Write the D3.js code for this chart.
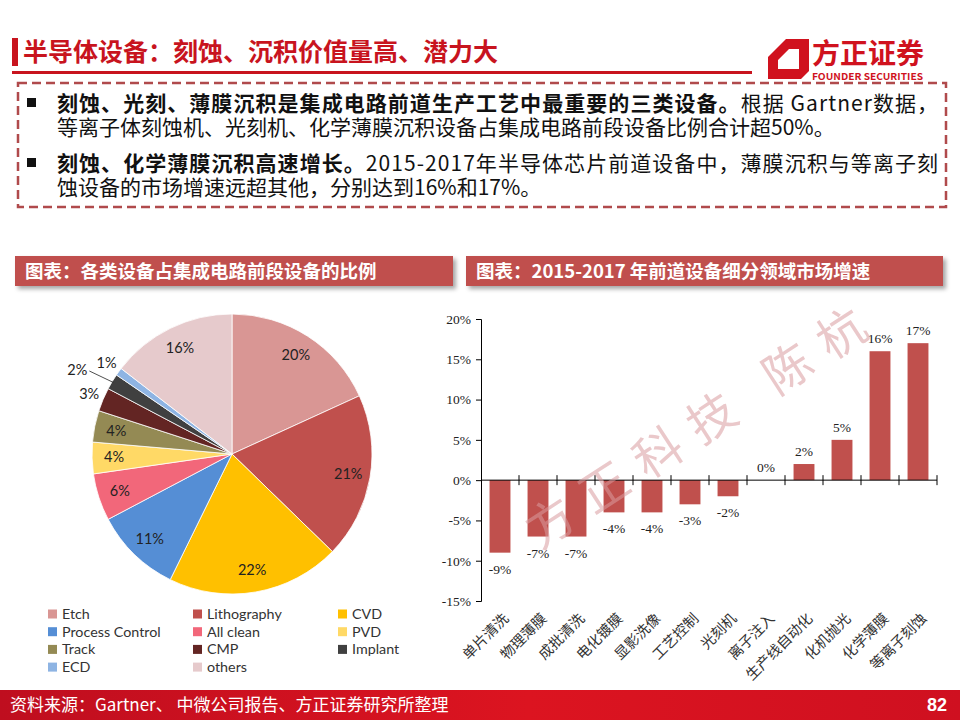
<!DOCTYPE html>
<meta charset="utf-8">
<script src="https://d3js.org/d3.v7.min.js"></script>
<style>
  body { margin: 0; background: #fff; }
  svg text { font-family: "Noto Sans CJK SC", "Noto Sans", sans-serif; }
</style>
<div id="chart"></div>
<script>
// ---- data ----
var pieNames = ["Etch", "Lithography", "CVD", "Process Control", "All clean", "PVD", "Track", "CMP", "Implant", "ECD", "others"];
var pieValues = [20, 21, 22, 11, 6, 4, 4, 3, 2, 1, 16];
var pieColors = ["#d99694", "#c0504d", "#ffc000", "#558ed5", "#f2677a", "#ffd966", "#948a54", "#632523", "#404040", "#8eb4e3", "#e6cacc"];

var barNames = ["单片清洗", "物理薄膜", "成批清洗", "电化镀膜", "显影洗像", "工艺控制", "光刻机", "离子注入", "生产线自动化", "化机抛光", "化学薄膜", "等离子刻蚀"];
var barValues = [-9, -7, -7, -4, -4, -3, -2, 0, 2, 5, 16, 17];
var yTicks = [-15, -10, -5, 0, 5, 10, 15, 20];

var pageTitle = "半导体设备：刻蚀、沉积价值量高、潜力大";
var bullet1Bold = "刻蚀、光刻、薄膜沉积是集成电路前道生产工艺中最重要的三类设备。";
var bullet1Rest = "根据 Gartner数据，";
var bullet1Line2 = "等离子体刻蚀机、光刻机、化学薄膜沉积设备占集成电路前段设备比例合计超50%。";
var bullet2Bold = "刻蚀、化学薄膜沉积高速增长。";
var bullet2Rest = "2015-2017年半导体芯片前道设备中，薄膜沉积与等离子刻";
var bullet2Line2 = "蚀设备的市场增速远超其他，分别达到16%和17%。";
var pieTitle = "图表：各类设备占集成电路前段设备的比例";
var barTitle = "图表：2015-2017 年前道设备细分领域市场增速";
var sourceText = "资料来源：Gartner、 中微公司报告、方正证券研究所整理";
var pageNo = "82";

var W = 960, H = 720;
var red = "#c0504d";

var svg = d3.select("#chart").append("svg")
    .attr("width", W)
    .attr("height", H);

var defs = svg.append("defs");
var shadow = defs.append("filter").attr("id", "shadow")
    .attr("x", "-5%").attr("y", "-30%").attr("width", "110%").attr("height", "170%");
shadow.append("feDropShadow")
    .attr("dx", 3).attr("dy", 3).attr("stdDeviation", 2)
    .attr("flood-color", "#000").attr("flood-opacity", 0.35);

var foot = defs.append("linearGradient").attr("id", "foot").attr("x1", 0).attr("x2", 1);
foot.append("stop").attr("offset", "0%").attr("stop-color", "#bf0e1f");
foot.append("stop").attr("offset", "55%").attr("stop-color", "#dc1420");
foot.append("stop").attr("offset", "100%").attr("stop-color", "#cf1020");

// ---- page header ----
svg.append("rect").attr("x", 12).attr("y", 38).attr("width", 6).attr("height", 28).attr("fill", "#c8141e");
svg.append("text").attr("x", 23).attr("y", 61)
    .attr("font-size", 25).attr("font-weight", 700).attr("fill", "#c8141e")
    .text(pageTitle);
svg.append("rect").attr("x", 12).attr("y", 71).attr("width", 740).attr("height", 3).attr("fill", "#c8141e");

// logo
svg.append("path")
    .attr("d", "M786,39 L809,39 L809,71 L801,79 L768,79 L768,57 Z M789,49 L799,49 L799,69 L778,69 L778,60 Z")
    .attr("fill-rule", "evenodd")
    .attr("fill", "#d0121e");
svg.append("text").attr("x", 812).attr("y", 64)
    .attr("font-size", 28).attr("font-weight", 700).attr("fill", "#d0121e")
    .attr("textLength", 112).attr("lengthAdjust", "spacingAndGlyphs")
    .text("方正证券");
svg.append("text").attr("x", 812).attr("y", 80)
    .attr("font-family", "Liberation Sans").attr("font-size", 9.5).attr("font-weight", 700).attr("fill", "#d0121e")
    .attr("textLength", 111).attr("lengthAdjust", "spacingAndGlyphs")
    .text("FOUNDER SECURITIES");

// ---- dashed summary box ----
svg.append("rect").attr("x", 18).attr("y", 83).attr("width", 928).attr("height", 124)
    .attr("fill", "none").attr("stroke", "#b04a4c").attr("stroke-width", 2.5)
    .attr("stroke-dasharray", "9,5");

function bulletLine(y, bold, rest, len) {
  svg.append("rect").attr("x", 27).attr("y", y - 13).attr("width", 9).attr("height", 9).attr("fill", "#111");
  var t = svg.append("text").attr("x", 57).attr("y", y).attr("font-size", 21).attr("fill", "#111");
  if (len) t.attr("textLength", len).attr("lengthAdjust", "spacing");
  t.append("tspan").attr("font-weight", 700).text(bold);
  t.append("tspan").text(rest);
}
bulletLine(111, bullet1Bold, bullet1Rest, 881);
svg.append("text").attr("x", 57).attr("y", 135).attr("font-size", 21).attr("fill", "#111").text(bullet1Line2);
bulletLine(171, bullet2Bold, bullet2Rest, 881);
svg.append("text").attr("x", 57).attr("y", 195).attr("font-size", 21).attr("fill", "#111").text(bullet2Line2);

// ---- section headers ----
function sectionHeader(x, w, label) {
  svg.append("rect").attr("x", x).attr("y", 256).attr("width", w).attr("height", 30)
      .attr("fill", red).attr("filter", "url(#shadow)");
  svg.append("text").attr("x", x + 10).attr("y", 278)
      .attr("font-size", 18.5).attr("font-weight", 700).attr("fill", "#fff")
      .text(label);
}
sectionHeader(15, 438, pieTitle);
sectionHeader(466, 477, barTitle);

// ---- pie chart ----
var cx = 232, cy = 454, R = 140;
var pie = d3.pie().sort(null).value(function(d) { return d; });
var arcs = pie(pieValues);
var arc = d3.arc().innerRadius(0).outerRadius(R);

var pg = svg.append("g").attr("transform", "translate(" + cx + "," + cy + ")");
pg.selectAll("path.slice")
  .data(arcs)
  .enter()
  .append("path")
    .attr("class", "slice")
    .attr("d", arc)
    .attr("fill", function(d, i) { return pieColors[i]; })
    .attr("stroke", "#fff")
    .attr("stroke-width", 0.8);

function isSmall(i) { return i >= 0 && i < pieValues.length && pieValues[i] < 4; }
arcs.forEach(function(d, i) {
  var a = (d.startAngle + d.endAngle) / 2;
  var r = 118, pushed = false;
  if (isSmall(i)) {
    r = 155;
    // a small slice squeezed between two small slices gets pulled further out with a leader
    if (isSmall(i - 1) && isSmall(i + 1)) { r = 176; a -= 0.045; pushed = true; }
  }
  var lx = Math.sin(a) * r, ly = -Math.cos(a) * r;
  if (pushed) {
    var m = (d.startAngle + d.endAngle) / 2;
    pg.append("path")
      .attr("d", "M" + (lx + 12) + "," + (ly + 1) + " L" + (Math.sin(m) * R * 0.99) + "," + (-Math.cos(m) * R * 0.99))
      .attr("stroke", "#222").attr("stroke-width", 0.8).attr("fill", "none");
  }
  pg.append("text")
    .attr("x", lx).attr("y", ly)
    .attr("dy", "0.35em")
    .attr("text-anchor", "middle")
    .style("font-family", "Lato, 'Noto Sans', sans-serif")
    .attr("font-size", 14.5)
    .attr("fill", "#222")
    .text(pieValues[i] + "%");
});

// legend
var legend = svg.append("g");
pieNames.forEach(function(name, i) {
  var col = i % 3, row = Math.floor(i / 3);
  var lx = [48, 193, 338][col], ly = 614 + row * 17.7;
  legend.append("rect").attr("x", lx).attr("y", ly - 4.5).attr("width", 9).attr("height", 9).attr("fill", pieColors[i]);
  legend.append("text").attr("x", lx + 14).attr("y", ly).attr("dy", "0.35em")
    .style("font-family", "Lato, 'Noto Sans', sans-serif")
    .attr("font-size", 14.3).attr("fill", "#333")
    .text(name);
});

// ---- bar chart ----
var x = d3.scaleBand()
    .domain(barNames)
    .range([481, 937])
    .paddingInner(0.45)
    .paddingOuter(0.225);
var y = d3.scaleLinear()
    .domain([-15, 20])
    .range([601, 319]);
var serif = "'Liberation Serif', 'Times New Roman', serif";

var bg = svg.append("g");
bg.selectAll("rect.bar")
  .data(barValues)
  .enter()
  .append("rect")
    .attr("class", "bar")
    .attr("x", function(d, i) { return x(barNames[i]); })
    .attr("width", x.bandwidth())
    .attr("y", function(d) { return y(Math.max(0, d)); })
    .attr("height", function(d) { return Math.abs(y(d) - y(0)); })
    .attr("fill", red);

bg.selectAll("text.val")
  .data(barValues)
  .enter()
  .append("text")
    .attr("class", "val")
    .attr("x", function(d, i) { return x(barNames[i]) + x.bandwidth() / 2; })
    .attr("y", function(d) { return d < 0 ? y(d) + 21 : y(d) - 8; })
    .attr("text-anchor", "middle")
    .style("font-family", serif)
    .attr("font-size", 13.5)
    .attr("fill", "#222")
    .text(function(d) { return d + "%"; });

// y axis
var yAxis = svg.append("g")
    .attr("transform", "translate(481,0)")
    .call(d3.axisLeft(y).tickValues(yTicks).tickSize(5).tickPadding(5).tickFormat(function(d) { return d + "%"; }));
yAxis.select(".domain").attr("stroke", "#000");
yAxis.selectAll("text").style("font-family", serif).attr("font-size", 13.5).attr("fill", "#222");

// x axis on zero line, ticks at band boundaries crossing the line
var bStep = x.step();
var xa = svg.append("g");
xa.append("line").attr("x1", 481).attr("x2", 937).attr("y1", y(0)).attr("y2", y(0)).attr("stroke", "#000");
xa.selectAll("line.tk")
  .data(barNames)
  .enter()
  .append("line")
    .attr("class", "tk")
    .attr("x1", function(d) { return x(d) + x.bandwidth() + (bStep - x.bandwidth()) / 2; })
    .attr("x2", function(d) { return x(d) + x.bandwidth() + (bStep - x.bandwidth()) / 2; })
    .attr("y1", y(0) - 5).attr("y2", y(0) + 5)
    .attr("stroke", "#000");

// category labels
svg.append("g").selectAll("text.cat")
  .data(barNames)
  .enter()
  .append("text")
    .attr("class", "cat")
    .attr("transform", function(d) { return "translate(" + (x(d) + x.bandwidth() / 2 + 6) + ",616) rotate(-45)"; })
    .attr("text-anchor", "end")
    .attr("dy", "0.35em")
    .attr("font-size", 14.5)
    .attr("fill", "#333")
    .text(function(d) { return d; });

// watermark
svg.append("text")
    .attr("transform", "translate(703,424) rotate(-33)")
    .attr("text-anchor", "middle")
    .attr("dy", "0.35em")
    .attr("font-size", 48)
    .attr("letter-spacing", 16)
    .attr("fill", "#d89a9e")
    .attr("fill-opacity", 0.55)
    .text("方正科技  陈杭");

// ---- footer ----
svg.append("rect").attr("x", 0).attr("y", 690).attr("width", W).attr("height", 30).attr("fill", "url(#foot)");
svg.append("text").attr("x", 10).attr("y", 711).attr("font-size", 17).attr("fill", "#fff").text(sourceText);
svg.append("text").attr("x", 947).attr("y", 711).attr("text-anchor", "end")
    .style("font-family", "'Liberation Sans', Arial, sans-serif")
    .attr("font-size", 18).attr("font-weight", 700).attr("fill", "#fff").text(pageNo);
</script>
